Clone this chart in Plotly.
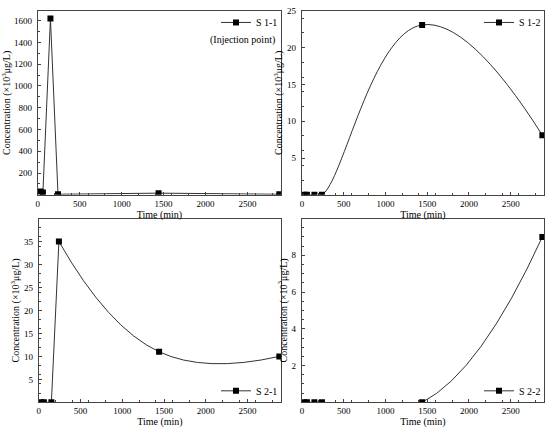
import plotly.graph_objects as go

# sampling times (min)
time_min = [30, 60, 150, 240, 1440, 2880]

# concentrations (x10^3 ug/L)
s11 = [30, 20, 1620, 5, 15, 5]
s12 = [0, 0, 0, 0, 23.1, 8.1]
s21 = [0, 0, 0, 35, 11, 10]
s22 = [0, 0, 0, 0, 0, 9]

panel_names = ["S 1-1", "S 1-2", "S 2-1", "S 2-2"]
panel_data = [s11, s12, s21, s22]
# index from which the curve is smoothed (None = straight segments only)
spline_from = [None, 0, 3, 0]
y_ranges = [[0, 1690], [0, 25], [0, 40], [0, 10]]
y_ticks = [
    [200, 400, 600, 800, 1000, 1200, 1400, 1600],
    [5, 10, 15, 20, 25],
    [5, 10, 15, 20, 25, 30, 35],
    [2, 4, 6, 8],
]
x_ticks = [0, 500, 1000, 1500, 2000, 2500]

W, H = 550, 433
FONT = "Liberation Serif, Times New Roman, serif"
LINE = dict(color="#333333", width=1)

# panel boxes in pixels (left, right, top, bottom)
boxes = [(36, 280, 6, 192), (301, 544, 6, 192), (37, 280, 216, 402), (301, 544, 216, 402)]
# legend anchor in pixels (right x, y, anchor)
legend_px = [(282, 3, "top"), (546, 3, "top"), (282, 405, "bottom"), (546, 405, "bottom")]

fig = go.Figure()
layout = dict(
    width=W, height=H, margin=dict(l=0, r=0, t=0, b=0), showlegend=True,
    paper_bgcolor="white", plot_bgcolor="white",
    font=dict(family=FONT, size=10, color="black"),
)

for i in range(4):
    n = "" if i == 0 else str(i + 1)
    leg = "legend" if i == 0 else "legend" + str(i + 1)
    ys = panel_data[i]
    k = spline_from[i]
    if k is None:
        fig.add_trace(go.Scatter(
            x=time_min, y=ys, mode="lines+markers", name=panel_names[i],
            line=LINE, marker=dict(symbol="square", size=6, color="black"),
            xaxis="x" + n, yaxis="y" + n, legend=leg, showlegend=True,
        ))
    else:
        # straight part before the smoothed part, if any
        if k > 0:
            fig.add_trace(go.Scatter(
                x=time_min[:k + 1], y=ys[:k + 1], mode="lines", line=LINE,
                xaxis="x" + n, yaxis="y" + n, showlegend=False, hoverinfo="skip",
            ))
        fig.add_trace(go.Scatter(
            x=time_min[k:], y=ys[k:], mode="lines",
            line=dict(LINE, shape="spline", smoothing=1.3),
            xaxis="x" + n, yaxis="y" + n, showlegend=False, hoverinfo="skip",
        ))
        fig.add_trace(go.Scatter(
            x=time_min, y=ys, mode="markers", name=panel_names[i],
            marker=dict(symbol="square", size=6, color="black"),
            xaxis="x" + n, yaxis="y" + n, legend=leg, showlegend=False,
        ))
        # legend entry (line + marker) without drawing extra marks
        fig.add_trace(go.Scatter(
            x=[None], y=[None], mode="lines+markers", name=panel_names[i],
            line=LINE, marker=dict(symbol="square", size=6, color="black"),
            xaxis="x" + n, yaxis="y" + n, legend=leg, showlegend=True,
        ))
    l, r, t, b = boxes[i]
    xd = [l / W, r / W]
    yd = [1 - b / H, 1 - t / H]
    common = dict(
        showline=True, linecolor="#444444", linewidth=1, mirror=True,
        ticks="inside", ticklen=3, tickcolor="#444444", showgrid=False, zeroline=False,
        tickfont=dict(family=FONT, size=9),
        minor=dict(ticks="inside", ticklen=2, tickcolor="#444444"),
    )
    layout["xaxis" + n] = dict(
        common, domain=xd, range=[0, 2900], tickvals=x_ticks, anchor="y" + n,
        title=dict(text="Time (min)", standoff=2, font=dict(size=10)),
    )
    layout["yaxis" + n] = dict(
        common, domain=yd, range=y_ranges[i], tickvals=y_ticks[i], anchor="x" + n,
        ticklabelstandoff=3,
        title=dict(text="Concentration (×10<sup>3</sup>μg/L)", standoff=2, font=dict(size=10)),
    )
    lx, ly, yanc = legend_px[i]
    layout[leg] = dict(
        x=lx / W, y=1 - ly / H,
        xanchor="right", yanchor=yanc, bgcolor="rgba(0,0,0,0)",
        font=dict(family=FONT, size=10), itemwidth=30, visible=True,
    )

fig.update_layout(**layout)
fig.add_annotation(
    text="(Injection point)", xref="paper", yref="paper",
    x=276 / W, y=1 - 35 / H, xanchor="right", yanchor="middle",
    showarrow=False, font=dict(family=FONT, size=10),
)

fig.write_html("out.html", config={"displayModeBar": False},
               post_script="document.body.style.margin='0';")
